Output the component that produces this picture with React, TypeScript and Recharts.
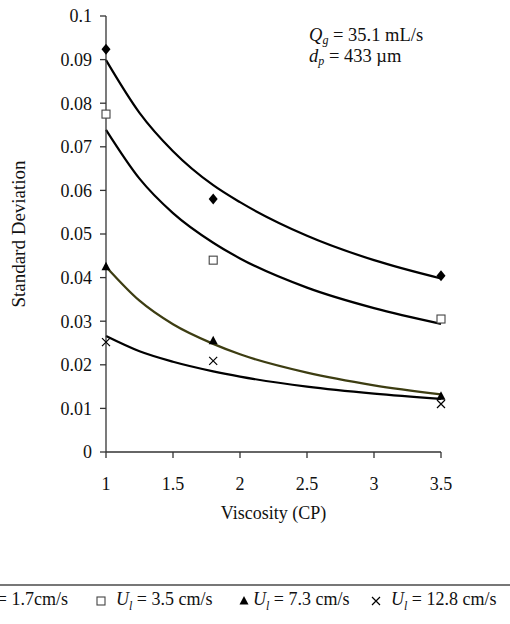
import { Customized, Legend, Line, LineChart, XAxis, YAxis } from "recharts";

// Standard deviation vs liquid viscosity for four liquid velocities,
// each with its power-law trend curve.

const SERIF = '"Liberation Serif", "Times New Roman", serif';
const INK = "#111";

const viscosity = [1, 1.8, 3.5];
const sdU17 = [0.0924, 0.058, 0.0404];
const sdU35 = [0.0775, 0.044, 0.0305];
const sdU73 = [0.0425, 0.0255, 0.0128];
const sdU128 = [0.0252, 0.0209, 0.011];

// trend curves
const trendX = [1, 1.25, 1.5, 1.8, 2, 2.5, 3, 3.5];
const fitU17 = [0.0899, 0.0778, 0.069, 0.0612, 0.0573, 0.0496, 0.044, 0.0398];
const fitU35 = [0.0739, 0.0627, 0.0548, 0.048, 0.0444, 0.0377, 0.033, 0.0294];
const fitU73 = [0.0425, 0.0347, 0.0293, 0.0248, 0.0224, 0.0182, 0.0153, 0.0132];
const fitU128 = [0.0266, 0.0231, 0.0207, 0.0185, 0.0173, 0.015, 0.0134, 0.0122];

const xTicks = [1, 1.5, 2, 2.5, 3, 3.5];
const yTicks = [0, 0.01, 0.02, 0.03, 0.04, 0.05, 0.06, 0.07, 0.08, 0.09, 0.1];

const legendLabels = ["1.7cm/s", "3.5 cm/s", "7.3 cm/s", "12.8 cm/s"];

const rows = (xs: number[], ys: number[]) => xs.map((x, i) => ({ x, y: ys[i] }));

type DotProps = { cx?: number; cy?: number };

function Diamond({ cx, cy }: DotProps) {
  if (cx == null || cy == null) return null;
  return <path d={`M${cx} ${cy - 5.5} L${cx + 4.5} ${cy} L${cx} ${cy + 5.5} L${cx - 4.5} ${cy} Z`} fill="#000" />;
}
function Square({ cx, cy }: DotProps) {
  if (cx == null || cy == null) return null;
  return <rect x={cx - 4} y={cy - 4} width={8} height={8} fill="#fff" stroke="#444" strokeWidth={1.1} />;
}
function Triangle({ cx, cy }: DotProps) {
  if (cx == null || cy == null) return null;
  return <path d={`M${cx} ${cy - 5} L${cx + 4.5} ${cy + 3.5} L${cx - 4.5} ${cy + 3.5} Z`} fill="#000" />;
}
function Cross({ cx, cy }: DotProps) {
  if (cx == null || cy == null) return null;
  return (
    <path
      d={`M${cx - 4} ${cy - 4} L${cx + 4} ${cy + 4} M${cx + 4} ${cy - 4} L${cx - 4} ${cy + 4}`}
      stroke="#000"
      strokeWidth={1.2}
    />
  );
}

const markers = [Diamond, Square, Triangle, Cross];

function LegendBox() {
  const markLeft = [-46, 95, 238, 370];
  const textLeft = [-24, 116, 253, 391];
  return (
    <div style={{ position: "relative", width: 510, height: 40, fontFamily: SERIF, fontSize: 18, color: INK }}>
      <div style={{ position: "absolute", left: 0, top: 0, width: 510, borderTop: "2px solid #777" }} />
      {legendLabels.map((lab, i) => {
        const M = markers[i];
        return (
          <div key={lab}>
            <svg style={{ position: "absolute", left: markLeft[i], top: 11 }} width={12} height={12}>
              <M cx={6} cy={6} />
            </svg>
            <span style={{ position: "absolute", left: textLeft[i], top: 5, whiteSpace: "nowrap" }}>
              <i>U</i>
              <sub style={{ fontSize: 12 }}>
                <i>l</i>
              </sub>
              {" = "}
              {lab}
            </span>
          </div>
        );
      })}
    </div>
  );
}

function YLabel({ viewBox }: { viewBox?: { x: number; y: number; width: number; height: number } }) {
  if (!viewBox) return null;
  return (
    <text
      transform={`translate(25, ${viewBox.y + viewBox.height / 2}) rotate(-90)`}
      textAnchor="middle"
      fontFamily={SERIF}
      fontSize={19}
      fill={INK}
    >
      Standard Deviation
    </text>
  );
}

function XLabel({ viewBox }: { viewBox?: { x: number; y: number; width: number; height: number } }) {
  if (!viewBox) return null;
  return (
    <text x={viewBox.x + viewBox.width / 2} y={519} textAnchor="middle" fontFamily={SERIF} fontSize={18} fill={INK}>
      Viscosity (CP)
    </text>
  );
}

function Note() {
  return (
    <g fontFamily={SERIF} fontSize={18.5} fill={INK}>
      <text x={309} y={41}>
        <tspan fontStyle="italic">Q</tspan>
        <tspan fontStyle="italic" fontSize={12} dy={3}>g</tspan>
        <tspan dy={-3}> = 35.1 mL/s</tspan>
      </text>
      <text x={309} y={62}>
        <tspan fontStyle="italic">d</tspan>
        <tspan fontStyle="italic" fontSize={12} dy={3}>p</tspan>
        <tspan dy={-3}> = 433 µm</tspan>
      </text>
    </g>
  );
}

const tickStyle = { fontFamily: SERIF, fontSize: 18, fill: INK };

export default function App() {
  const points = [sdU17, sdU35, sdU73, sdU128].map((s) => rows(viscosity, s));
  const fits = [fitU17, fitU35, fitU73, fitU128].map((s) => rows(trendX, s));
  const fitColor = ["#000", "#000", "#3d3d12", "#000"];

  return (
    <div style={{ position: "absolute", left: 0, top: 0, width: 510, height: 624, background: "#fff" }}>
      <LineChart width={510} height={624} margin={{ top: 16, right: 69, bottom: 102, left: 0 }}>
        <XAxis
          dataKey="x"
          type="number"
          domain={[1, 3.5]}
          ticks={xTicks}
          tick={tickStyle}
          tickSize={6}
          tickMargin={19}
          height={70}
          stroke="#333"
          strokeWidth={1.3}
          allowDuplicatedCategory={false}
          label={<XLabel />}
        />
        <XAxis xAxisId="top" orientation="top" type="number" domain={[1, 3.5]} tick={false} tickLine={false} height={0} stroke="#666" />
        <YAxis
          type="number"
          domain={[0, 0.1]}
          ticks={yTicks}
          tick={tickStyle}
          tickSize={6}
          tickMargin={8}
          width={106}
          stroke="#333"
          strokeWidth={1.3}
          label={<YLabel />}
        />
        <YAxis yAxisId="right" orientation="right" domain={[0, 0.1]} tick={false} tickLine={false} width={0} stroke="#222" />
        {fits.map((d, i) => (
          <Line
            key={`fit${i}`}
            data={d}
            dataKey="y"
            type="monotone"
            stroke={fitColor[i]}
            strokeWidth={2.2}
            dot={false}
            isAnimationActive={false}
          />
        ))}
        {points.map((d, i) => {
          const M = markers[i];
          return (
            <Line
              key={`pts${i}`}
              data={d}
              dataKey="y"
              stroke="none"
              dot={<M />}
              activeDot={false}
              isAnimationActive={false}
            />
          );
        })}
        <Customized component={<Note />} />
        <Legend
          layout="horizontal"
          verticalAlign="middle"
          align="center"
          wrapperStyle={{ top: 584, left: 0, width: 510 }}
          content={<LegendBox />}
        />
      </LineChart>
    </div>
  );
}
